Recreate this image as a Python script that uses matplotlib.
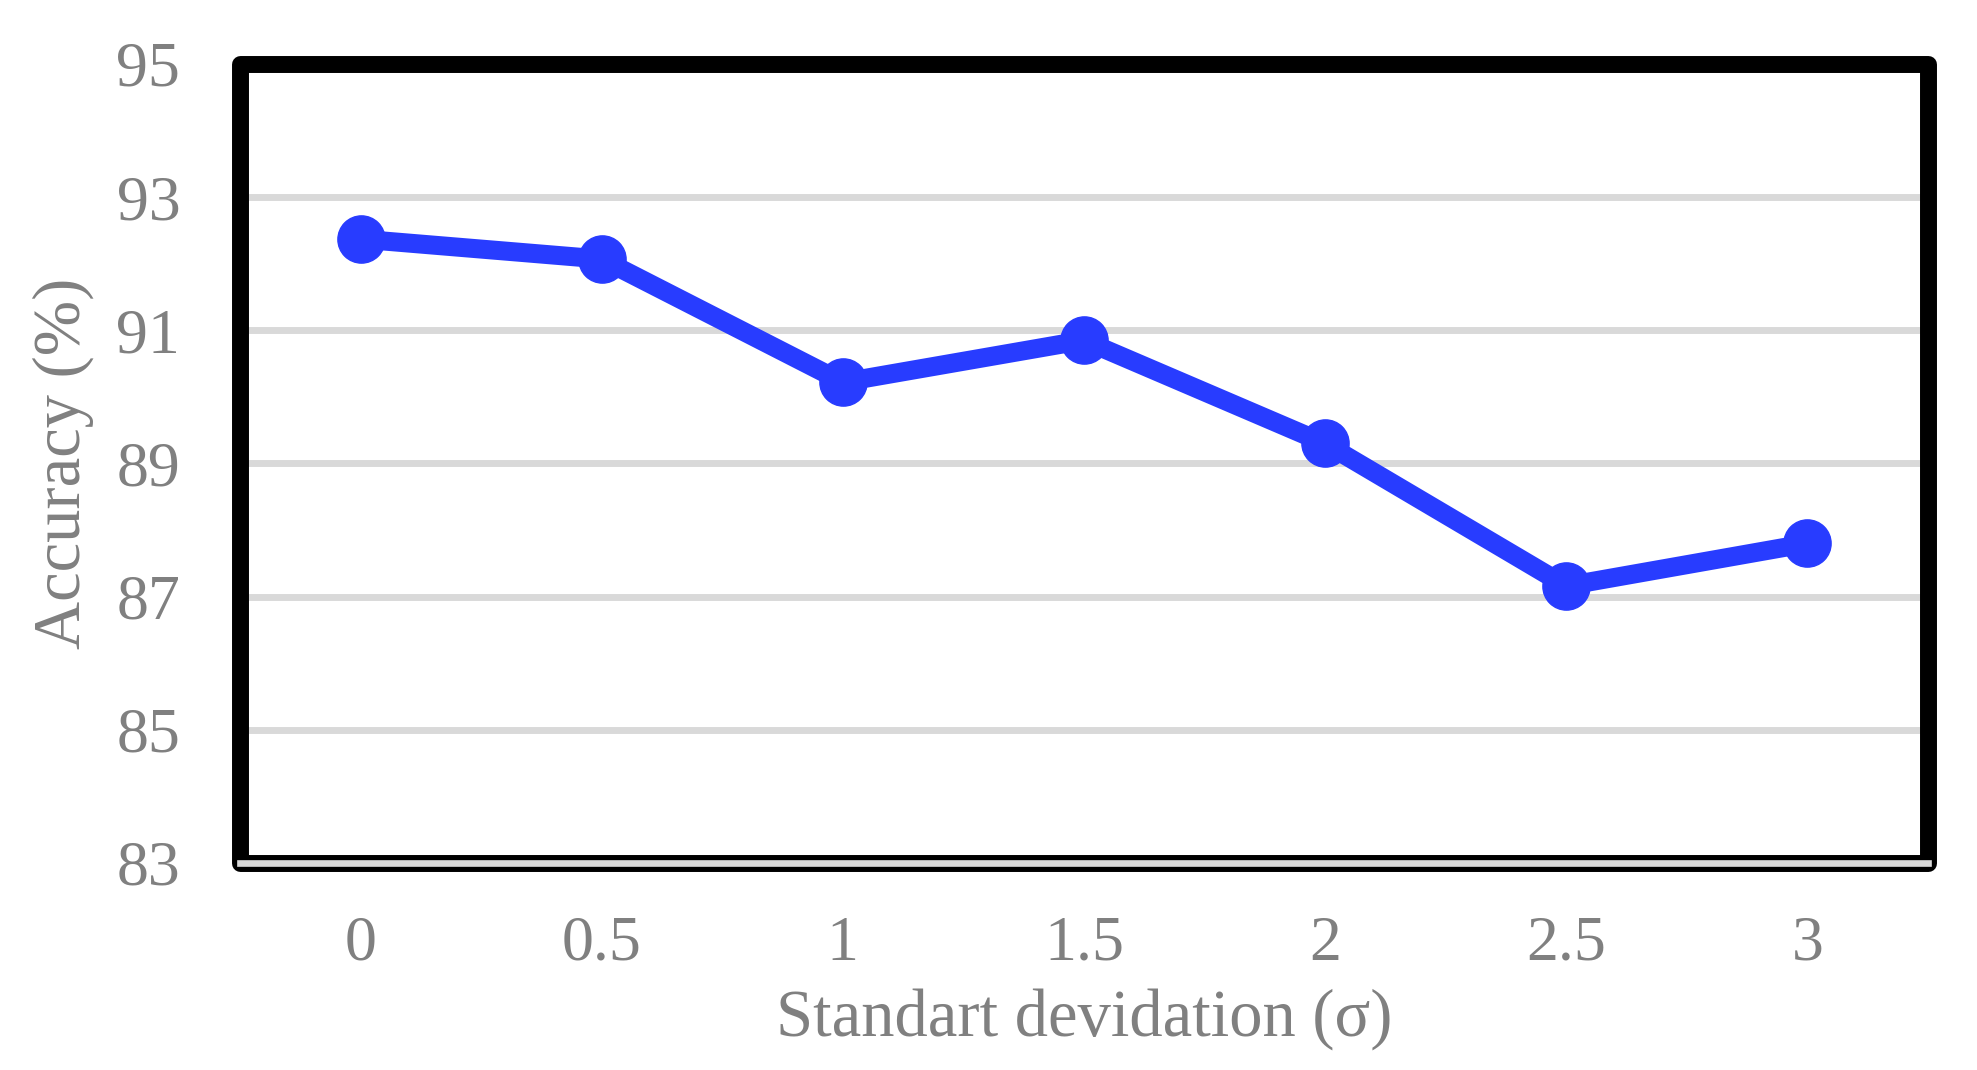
import matplotlib
matplotlib.use("Agg")
import matplotlib.pyplot as plt
from matplotlib.patches import Rectangle

# -----------------------------
# Data
# -----------------------------
sigma_labels = ["0", "0.5", "1", "1.5", "2", "2.5", "3"]
accuracy = [92.37, 92.07, 90.22, 90.85, 89.30, 87.16, 87.80]
y_ticks = [83, 85, 87, 89, 91, 93, 95]

blue = "#283CFF"
grey_text = "#808080"
grid_grey = "#D9D9D9"

plt.rcParams["font.family"] = ["Liberation Serif", "DejaVu Serif"]

fig = plt.figure(figsize=(19.77, 10.70), dpi=100)
ax = fig.add_axes([0.1214, 0.1935, 0.8538, 0.7467])

x = list(range(len(sigma_labels)))
ax.plot(x, accuracy, color=blue, linewidth=13.7, marker="o", markersize=34,
        solid_joinstyle="round", zorder=3)

ax.set_xlim(-0.5, len(sigma_labels) - 0.5)
ax.set_ylim(83, 95)
ax.set_yticks(y_ticks)
ax.set_xticks(x)
ax.set_xticklabels(sigma_labels)

ax.yaxis.grid(True, color=grid_grey, linewidth=5)
ax.set_axisbelow(True)
for s in ax.spines.values():
    s.set_visible(False)

ax.tick_params(axis="both", length=0, labelsize=46, labelcolor=grey_text)
ax.tick_params(axis="y", pad=43)
ax.tick_params(axis="x", pad=38)

ax.set_xlabel("Standart devidation (σ)", fontsize=48, color=grey_text, labelpad=10)
ax.set_ylabel("Accuracy (%)", fontsize=48, color=grey_text, labelpad=16)

# thick black frame around the plot area, rounded corners
frame = Rectangle((0, 0), 1, 1, transform=ax.transAxes, fill=False,
                  edgecolor="black", linewidth=12.2, joinstyle="round",
                  clip_on=False, zorder=4)
ax.add_patch(frame)

# grey category axis line sits on top of the frame
ax.axhline(83, color=grid_grey, linewidth=4.8, clip_on=False, zorder=5)

fig.savefig("out.png", dpi=100)
